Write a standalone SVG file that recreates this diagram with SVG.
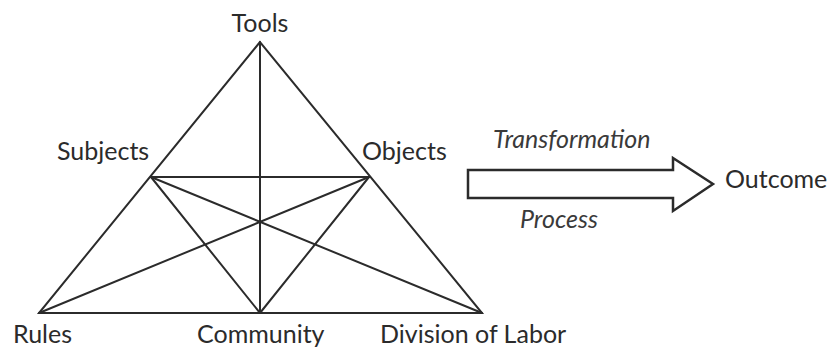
<svg xmlns="http://www.w3.org/2000/svg" width="831" height="347" viewBox="0 0 831 347">
<style>
.e{stroke:#2b2b2b;stroke-width:2;fill:none;stroke-linecap:round}
.t{font-family:Lato,"Open Sans","DejaVu Sans",sans-serif;font-size:25px;fill:#2b2b2b}
.i{font-style:italic;fill:#3a3a3a}
</style>
<rect width="831" height="347" fill="#fff"/>
<g id="connectors">
<path class="e" d="M260,42 L39,313 L482,313 Z"/>
<line class="e" x1="260" y1="42" x2="260" y2="313"/>
<line class="e" x1="151" y1="177" x2="369" y2="177"/>
<line class="e" x1="151" y1="177" x2="260" y2="313"/>
<line class="e" x1="369" y1="177" x2="260" y2="313"/>
<line class="e" x1="151" y1="177" x2="482" y2="313"/>
<line class="e" x1="369" y1="177" x2="39" y2="313"/>
</g>
<g id="tools"><text class="t" x="260" y="32" text-anchor="middle">Tools</text></g>
<g id="subjects"><text class="t" x="57" y="160">Subjects</text></g>
<g id="objects"><text class="t" x="362" y="160">Objects</text></g>
<g id="rules"><text class="t" x="13" y="343">Rules</text></g>
<g id="community"><text class="t" x="197" y="343">Community</text></g>
<g id="division"><text class="t" x="380" y="343">Division of Labor</text></g>
<g id="arrow">
<path d="M468,170 L673,170 L673,158 L713,184 L673,211 L673,198 L468,198 Z" fill="#fff" stroke="#2b2b2b" stroke-width="2.5" stroke-linejoin="miter"/>
</g>
<g id="transformation"><text class="t i" x="493" y="148">Transformation</text></g>
<g id="process"><text class="t i" x="520" y="228">Process</text></g>
<g id="outcome"><text class="t" x="725" y="188">Outcome</text></g>
</svg>
